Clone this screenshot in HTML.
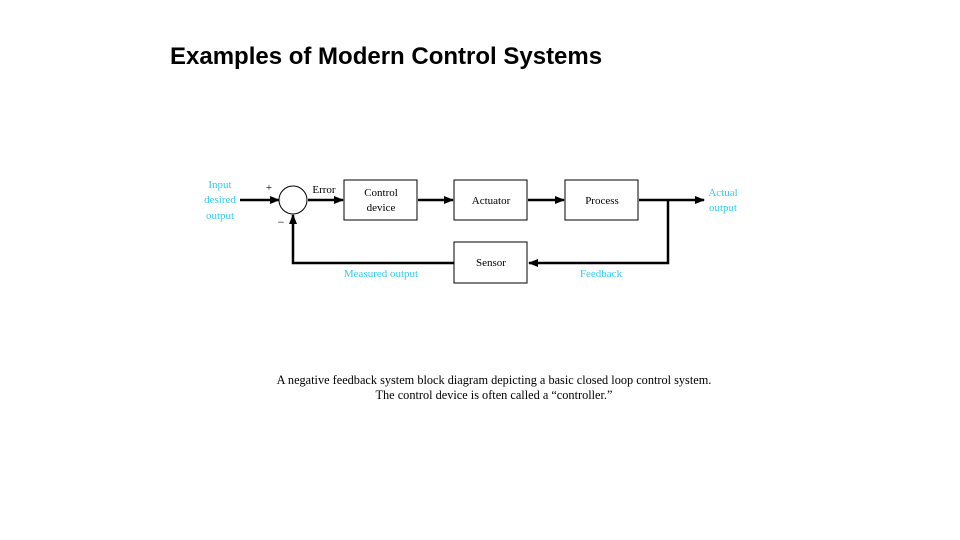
<!DOCTYPE html>
<html><head><style>
body{margin:0;width:960px;height:540px;background:#fff;overflow:hidden;position:relative;font-family:"Liberation Serif",serif}
h1{position:absolute;left:170px;top:43px;margin:0;font:bold 24px "Liberation Sans",sans-serif;color:#000;white-space:nowrap}
svg{position:absolute;left:0;top:0}
</style></head><body>
<h1>Examples of Modern Control Systems</h1>
<svg width="960" height="540" viewBox="0 0 960 540" font-family="Liberation Serif, serif" font-size="11">
<defs><marker id="a" markerWidth="10" markerHeight="10" refX="9" refY="5" orient="auto" markerUnits="userSpaceOnUse"><path d="M0,1 L10,5 L0,9 z" fill="#000"/></marker></defs>
<g stroke="#000" stroke-width="2.5" fill="none">
<line x1="240" y1="200" x2="279" y2="200" marker-end="url(#a)"/>
<line x1="308" y1="200" x2="343" y2="200" marker-end="url(#a)"/>
<line x1="418" y1="200" x2="453" y2="200" marker-end="url(#a)"/>
<line x1="528" y1="200" x2="564" y2="200" marker-end="url(#a)"/>
<line x1="639" y1="200" x2="704" y2="200" marker-end="url(#a)"/>
<polyline points="668,200 668,263 529,263" marker-end="url(#a)"/>
<polyline points="454,263 293,263 293,215" marker-end="url(#a)"/>
</g>
<g stroke="#000" stroke-width="1" fill="#fff">
<circle cx="293" cy="200" r="14"/>
<rect x="344" y="180" width="73" height="40"/>
<rect x="454" y="180" width="73" height="40"/>
<rect x="565" y="180" width="73" height="40"/>
<rect x="454" y="242" width="73" height="41"/>
</g>
<g text-anchor="middle" fill="#000">
<text x="381" y="196">Control</text><text x="381" y="211">device</text>
<text x="491" y="204">Actuator</text>
<text x="602" y="204">Process</text>
<text x="491" y="266">Sensor</text>
<text x="269" y="191">+</text><text x="281" y="226" font-size="12">−</text>
<text x="324" y="193">Error</text>
</g>
<g text-anchor="middle" fill="#33ccee">
<text x="220" y="188">Input</text><text x="220" y="203">desired</text><text x="220" y="219">output</text>
<text x="723" y="196">Actual</text><text x="723" y="211">output</text>
<text x="381" y="277">Measured output</text>
<text x="601" y="277">Feedback</text>
</g>
<g text-anchor="middle" fill="#000" font-size="12.3">
<text x="494" y="384">A negative feedback system block diagram depicting a basic closed loop control system.</text>
<text x="494" y="399">The control device is often called a “controller.”</text>
</g>
</svg>
</body></html>
